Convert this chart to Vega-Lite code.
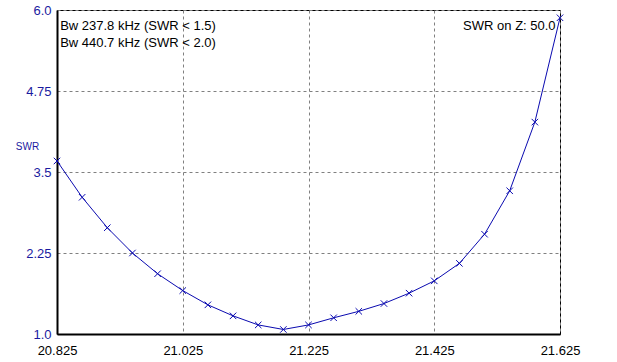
{
  "$schema": "https://vega.github.io/schema/vega-lite/v6.json",
  "width": 503,
  "height": 324,
  "autosize": "none",
  "padding": {"top": 10, "left": 57, "right": 57, "bottom": 28},
  "background": "white",
  "config": {
    "view": {"stroke": "#000000", "strokeWidth": 1},
    "font": "Liberation Sans",
    "axis": {"labelFont": "Liberation Sans", "labelFontSize": 13, "titleFont": "Liberation Sans"}
  },
  "datasets": {
    "swr": [
      {"freq": 20.825, "swr": 3.67},
      {"freq": 20.865, "swr": 3.11},
      {"freq": 20.905, "swr": 2.64},
      {"freq": 20.945, "swr": 2.25},
      {"freq": 20.985, "swr": 1.93},
      {"freq": 21.025, "swr": 1.67},
      {"freq": 21.065, "swr": 1.45},
      {"freq": 21.105, "swr": 1.28},
      {"freq": 21.145, "swr": 1.14},
      {"freq": 21.185, "swr": 1.07},
      {"freq": 21.225, "swr": 1.14},
      {"freq": 21.265, "swr": 1.25},
      {"freq": 21.305, "swr": 1.35},
      {"freq": 21.345, "swr": 1.47},
      {"freq": 21.385, "swr": 1.63},
      {"freq": 21.425, "swr": 1.82},
      {"freq": 21.465, "swr": 2.09},
      {"freq": 21.505, "swr": 2.54},
      {"freq": 21.545, "swr": 3.21},
      {"freq": 21.585, "swr": 4.27},
      {"freq": 21.625, "swr": 5.88}
    ],
    "notes": [
      {"freq": 20.83, "swr": 5.75, "label": "Bw 237.8 kHz (SWR < 1.5)", "side": "left"},
      {"freq": 20.83, "swr": 5.49, "label": "Bw 440.7 kHz (SWR < 2.0)", "side": "left"},
      {"freq": 21.618, "swr": 5.75, "label": "SWR on Z: 50.0", "side": "right"}
    ]
  },
  "layer": [
    {
      "data": {"name": "swr"},
      "mark": {"type": "line", "color": "#0a0ab0", "strokeWidth": 1, "clip": true},
      "encoding": {
        "x": {
          "field": "freq", "type": "quantitative",
          "scale": {"domain": [20.825, 21.625], "nice": false, "zero": false},
          "axis": {
            "values": [20.825, 21.025, 21.225, 21.425, 21.625],
            "format": ".3f",
            "title": null,
            "labelColor": "#000000",
            "labelFlush": false,
            "labelPadding": 10,
            "ticks": false,
            "domainColor": "#000000",
            "domainWidth": 2,
            "grid": true,
            "gridColor": "#808080",
            "gridDash": [3, 3],
            "gridWidth": 1
          }
        },
        "y": {
          "field": "swr", "type": "quantitative",
          "scale": {"domain": [1, 6], "nice": false, "zero": false},
          "axis": {
            "values": [1, 2.25, 3.5, 4.75, 6],
            "labelExpr": "datum.value % 1 == 0 ? format(datum.value, '.1f') : format(datum.value, '.2~f')",
            "labelColor": "#1a1aa0",
            "labelPadding": 6,
            "labelFlush": false,
            "ticks": false,
            "domainColor": "#000000",
            "domainWidth": 2,
            "grid": true,
            "gridColor": "#808080",
            "gridDash": [3, 3],
            "gridWidth": 1,
            "title": "SWR",
            "titleAngle": 0,
            "titleColor": "#1a1aa0",
            "titleFontSize": 10,
            "titleFontWeight": "normal",
            "titleAlign": "center",
            "titleBaseline": "middle",
            "titleX": -30,
            "titleY": 136
          }
        }
      }
    },
    {
      "data": {"name": "swr"},
      "mark": {"type": "point", "shape": "M-1,-1L1,1M-1,1L1,-1", "filled": false, "color": "#0a0ab0", "strokeWidth": 1, "size": 42, "opacity": 1},
      "encoding": {
        "x": {"field": "freq", "type": "quantitative"},
        "y": {"field": "swr", "type": "quantitative"}
      }
    },
    {
      "data": {"name": "notes"},
      "transform": [{"filter": "datum.side == 'left'"}],
      "mark": {"type": "text", "align": "left", "baseline": "middle", "fontSize": 13, "color": "#000000", "font": "Liberation Sans"},
      "encoding": {
        "x": {"field": "freq", "type": "quantitative"},
        "y": {"field": "swr", "type": "quantitative"},
        "text": {"field": "label"}
      }
    },
    {
      "data": {"name": "notes"},
      "transform": [{"filter": "datum.side == 'right'"}],
      "mark": {"type": "text", "align": "right", "baseline": "middle", "fontSize": 13, "color": "#000000", "font": "Liberation Sans"},
      "encoding": {
        "x": {"field": "freq", "type": "quantitative"},
        "y": {"field": "swr", "type": "quantitative"},
        "text": {"field": "label"}
      }
    }
  ]
}
